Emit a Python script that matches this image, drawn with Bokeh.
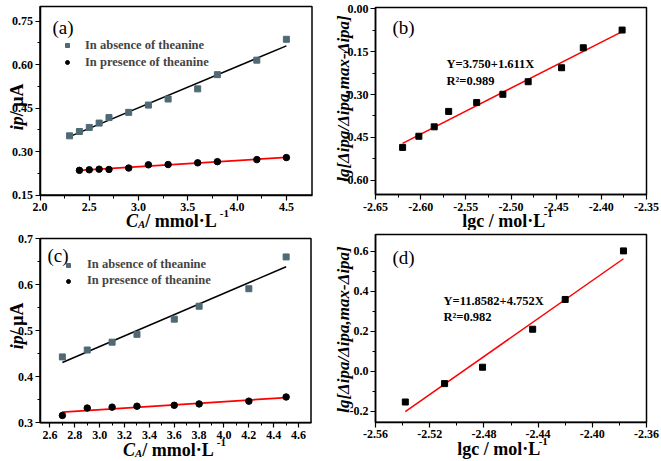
import math
import numpy as np
from bokeh.plotting import figure
from bokeh.layouts import column, row
from bokeh.models import (FixedTicker, Label, Range1d, Legend, LegendItem, BoxAnnotation,
                          CustomJSTickFormatter)
from bokeh.embed import file_html
from bokeh.resources import INLINE

# ---------------- data ----------------
# panel (a)
a_conc_absence = [2.3, 2.4, 2.5, 2.6, 2.7, 2.9, 3.1, 3.3, 3.6, 3.8, 4.2, 4.5]
a_ip_absence = [0.354, 0.369, 0.383, 0.398, 0.417, 0.435, 0.460, 0.481, 0.516, 0.565, 0.615, 0.687]
a_conc_presence = [2.4, 2.5, 2.6, 2.7, 2.9, 3.1, 3.3, 3.6, 3.8, 4.2, 4.5]
a_ip_presence = [0.235, 0.237, 0.239, 0.238, 0.243, 0.254, 0.255, 0.261, 0.265, 0.272, 0.279]

# panel (b)
b_lgc = [-2.620, -2.602, -2.585, -2.569, -2.538, -2.509, -2.481, -2.444, -2.420, -2.377]
b_lgratio = [-0.485, -0.446, -0.413, -0.359, -0.328, -0.299, -0.255, -0.206, -0.136, -0.074]
b_intercept, b_slope = 3.750, 1.611

# panel (c)
c_conc_absence = [2.7, 2.9, 3.1, 3.3, 3.6, 3.8, 4.2, 4.5]
c_ip_absence = [0.443, 0.458, 0.475, 0.492, 0.525, 0.553, 0.591, 0.660]
c_conc_presence = [2.7, 2.9, 3.1, 3.3, 3.6, 3.8, 4.2, 4.5]
c_ip_presence = [0.316, 0.332, 0.334, 0.336, 0.338, 0.341, 0.347, 0.356]

# panel (d)
d_lgc = [-2.538, -2.509, -2.481, -2.444, -2.420, -2.377]
d_lgratio = [-0.154, -0.062, 0.020, 0.210, 0.359, 0.602]
d_intercept, d_slope = 11.8582, 4.752

# axis limits (data units of the drawn box)
a_xlim, a_ylim = (2.0, 4.76), (0.15, 0.80)
b_xlim, b_ylim = (-2.65, -2.35), (-0.65, 0.005)
c_xlim, c_ylim = (2.52, 4.70), (0.3, 0.7)
d_xlim, d_ylim = (-2.56, -2.36), (-0.255, 0.684)

# ticks
a_xticks = [2.0, 2.5, 3.0, 3.5, 4.0, 4.5]
a_xlabels = ["2.0", "2.5", "3.0", "3.5", "4.0", "4.5"]
a_yticks = [0.15, 0.30, 0.45, 0.60, 0.75]
a_ylabels = ["0.15", "0.30", "0.45", "0.60", "0.75"]
b_xticks = [-2.65, -2.60, -2.55, -2.50, -2.45, -2.40, -2.35]
b_xlabels = ["-2.65", "-2.60", "-2.55", "-2.50", "-2.45", "-2.40", "-2.35"]
b_yticks = [-0.60, -0.45, -0.30, -0.15, 0.0]
b_ylabels = ["-0.60", "-0.45", "-0.30", "-0.15", "0.00"]
c_xticks = [2.6, 2.8, 3.0, 3.2, 3.4, 3.6, 3.8, 4.0, 4.2, 4.4, 4.6]
c_xlabels = ["2.6", "2.8", "3.0", "3.2", "3.4", "3.6", "3.8", "4.0", "4.2", "4.4", "4.6"]
c_yticks = [0.3, 0.4, 0.5, 0.6, 0.7]
c_ylabels = ["0.3", "0.4", "0.5", "0.6", "0.7"]
d_xticks = [-2.56, -2.52, -2.48, -2.44, -2.40, -2.36]
d_xlabels = ["-2.56", "-2.52", "-2.48", "-2.44", "-2.40", "-2.36"]
d_yticks = [-0.2, 0.0, 0.2, 0.4, 0.6]
d_ylabels = ["-0.2", "0.0", "0.2", "0.4", "0.6"]

legend_labels = ["In absence of theanine", "In presence of theanine"]

# ---------------- style ----------------
FONT = "Liberation Serif"
SQ_COLOR = "#4f6a74"

W_B = {' ': 250, '/': 278, 'm': 833, 'o': 500, 'l': 278, '·': 250, 'L': 667,
       '-': 333, '1': 500, 'μ': 576, 'A': 722, 'C': 722, 'g': 500, 'c': 444}
W_BI = {'C': 667, 'A': 667, 'i': 278, 'p': 500}

TICK_JS = """
for (let i = 0; i < tick_values.length; i++) {
    if (Math.abs(tick_values[i] - tick) < 1e-9) { return tick_labels[i]; }
}
return "";
"""


def tw(s, size, italic=False):
    t = W_BI if italic else W_B
    return sum(t.get(ch, 500) for ch in s) * size / 1000.0


class Panel:
    """A figure whose frame covers the whole canvas; the plot box sits at
    canvas pixels (L, R, T, B) and the axes are fixed onto the box edges."""

    def __init__(self, w, h, box, xlim, ylim, xt, xl, yt, yl):
        L, R, T, B = box
        self.h = h
        sx = (xlim[1] - xlim[0]) / (R - L)
        sy = (ylim[1] - ylim[0]) / (B - T)
        xr = Range1d(xlim[0] - L * sx, xlim[1] + (w - R) * sx)
        yr = Range1d(ylim[0] - (h - B) * sy, ylim[1] + T * sy)
        p = figure(width=w, height=h, x_range=xr, y_range=yr,
                   output_backend="svg", toolbar_location=None, title=None,
                   min_border=0, min_border_left=0, min_border_right=0,
                   min_border_top=0, min_border_bottom=0)
        p.grid.visible = False
        p.outline_line_color = None
        p.add_layout(BoxAnnotation(left=xlim[0], right=xlim[1], bottom=ylim[0], top=ylim[1],
                                   fill_color=None, fill_alpha=0, line_color="black",
                                   line_width=1.5, line_alpha=1.0))
        xa, ya = p.xaxis[0], p.yaxis[0]
        xa.fixed_location = ylim[0]
        xa.bounds = xlim
        ya.fixed_location = xlim[0]
        ya.bounds = ylim
        for ax, ticks, labels in ((xa, xt, xl), (ya, yt, yl)):
            minor = [(ticks[i] + ticks[i + 1]) / 2 for i in range(len(ticks) - 1)]
            ax.ticker = FixedTicker(ticks=ticks, minor_ticks=minor)
            ax.formatter = CustomJSTickFormatter(
                args=dict(tick_values=list(ticks), tick_labels=list(labels)), code=TICK_JS)
            ax.axis_line_color = "black"
            ax.axis_line_width = 1.5
            ax.major_tick_line_color = "black"
            ax.major_tick_line_width = 1.2
            ax.minor_tick_line_color = "black"
            ax.minor_tick_line_width = 1.0
            ax.major_tick_in = 0
            ax.major_tick_out = 5
            ax.minor_tick_in = 0
            ax.minor_tick_out = 3
            ax.major_label_text_font = FONT
            ax.major_label_text_font_style = "bold"
            ax.major_label_text_font_size = "12px"
            ax.major_label_text_color = "black"
        xa.major_label_standoff = 3
        ya.major_label_standoff = 2
        self.p = p

    def lab(self, text, x, y_top, size, style="bold", align="left", baseline="alphabetic", angle=0.0):
        """x, y_top in canvas pixels measured from the top-left corner."""
        self.p.add_layout(Label(x=x, y=self.h - y_top, x_units="screen", y_units="screen",
                                text=text, text_font=FONT, text_font_size=f"{size}px",
                                text_font_style=style, text_align=align,
                                text_baseline=baseline, angle=angle, text_color="black"))

    def xlabel(self, pieces, cx, base):
        total = sum(tw(s, sz, it) for s, sz, st, dy, it in pieces)
        x = cx - total / 2
        for s, sz, st, dy, it in pieces:
            self.lab(s, x, base - dy, sz, st)
            x += tw(s, sz, it)

    def ylabel(self, pieces, cx, cy):
        total = sum(tw(s, sz, it) for s, sz, st, it in pieces)
        y = cy + total / 2
        for s, sz, st, it in pieces:
            self.lab(s, cx, y, sz, st, baseline="middle", angle=math.pi / 2)
            y -= tw(s, sz, it)

    def legend(self, r1, r2, left, top, standoff, lh):
        leg = Legend(items=[LegendItem(label=legend_labels[0], renderers=[r1]),
                            LegendItem(label=legend_labels[1], renderers=[r2])],
                     location=(left, self.h - top - 2 * lh))
        leg.border_line_color = None
        leg.background_fill_alpha = 0
        leg.margin = 0
        leg.padding = 0
        leg.spacing = 0
        leg.glyph_width = 10
        leg.glyph_height = 10
        leg.label_height = lh
        leg.label_standoff = standoff
        leg.label_text_font = FONT
        leg.label_text_font_style = "bold"
        leg.label_text_font_size = "12.5px"
        self.p.add_layout(leg)


def fit_line(x, y):
    k, c = np.polyfit(x, y, 1)
    xs = np.array([min(x), max(x)])
    return xs, c + k * xs


XLAB_CA = [("C", 18, "bold italic", 0, True), ("A", 11, "bold italic", -3, True),
           (" / mmol·L", 18, "bold", 0, False), ("-1", 11, "bold", 7, False)]
XLAB_LGC = [("lgc / mol·L", 18, "bold", 0, False), ("-1", 11, "bold", 7, False)]
YLAB_IP = [("ip", 18, "bold italic", True), (" / μA", 18, "bold", False)]
YLAB_LG = "lg[Δipa/Δipa,max-Δipa]"

W, H = 330, 230

# ---------------- panel (a) ----------------
A = Panel(W, H, (39.5, 311.5, 6, 194.5), a_xlim, a_ylim, a_xticks, a_xlabels, a_yticks, a_ylabels)
xs, ys = fit_line(a_conc_absence, a_ip_absence)
A.p.line(xs, ys, line_color="black", line_width=1.5)
xs, ys = fit_line(a_conc_presence, a_ip_presence)
A.p.line(xs, ys, line_color="red", line_width=1.8)
ra1 = A.p.scatter(a_conc_absence, a_ip_absence, marker="square", size=6, color=SQ_COLOR)
ra2 = A.p.scatter(a_conc_presence, a_ip_presence, marker="circle", size=6.5, color="black")
A.legend(ra1, ra2, 62, 36.5, 13, 17)
A.lab("(a)", 52, 16, 19, style="normal", baseline="top")
A.xlabel(XLAB_CA, 177, 220)
A.ylabel(YLAB_IP, 16, 104)

# ---------------- panel (b) ----------------
Bp = Panel(W, H, (45, 316, 7, 194), b_xlim, b_ylim, b_xticks, b_xlabels, b_yticks, b_ylabels)
xs = np.array([min(b_lgc), max(b_lgc)])
Bp.p.line(xs, b_intercept + b_slope * xs, line_color="red", line_width=1.5)
Bp.p.scatter(b_lgc, b_lgratio, marker="square", size=6, color="black")
Bp.lab("(b)", 62, 16, 19, style="normal", baseline="top")
Bp.lab("Y=3.750+1.611X", 116, 63, 12.5, baseline="middle")
Bp.lab("R²=0.989", 116, 80, 12.5, baseline="middle")
Bp.xlabel(XLAB_LGC, 177, 220)
Bp.lab(YLAB_LG, 13, 98, 17, style="bold italic", align="center", baseline="middle", angle=math.pi / 2)

# ---------------- panel (c) ----------------
Cp = Panel(W, H, (39.5, 310.5, 8, 192.3), c_xlim, c_ylim, c_xticks, c_xlabels, c_yticks, c_ylabels)
xs, ys = fit_line(c_conc_absence, c_ip_absence)
Cp.p.line(xs, ys, line_color="black", line_width=1.5)
xs, ys = fit_line(c_conc_presence, c_ip_presence)
Cp.p.line(xs, ys, line_color="red", line_width=1.8)
rc1 = Cp.p.scatter(c_conc_absence, c_ip_absence, marker="square", size=6, color=SQ_COLOR)
rc2 = Cp.p.scatter(c_conc_presence, c_ip_presence, marker="circle", size=6.5, color="black")
Cp.legend(rc1, rc2, 63, 26.5, 14, 16)
Cp.lab("(c)", 47, 14, 19, style="normal", baseline="top")
Cp.xlabel(XLAB_CA, 174, 219)
Cp.ylabel(YLAB_IP, 16, 93)

# ---------------- panel (d) ----------------
Dp = Panel(W, H, (45, 316, 4, 191.7), d_xlim, d_ylim, d_xticks, d_xlabels, d_yticks, d_ylabels)
xs = np.array([min(d_lgc), max(d_lgc)])
Dp.p.line(xs, d_intercept + d_slope * xs, line_color="red", line_width=1.5)
Dp.p.scatter(d_lgc, d_lgratio, marker="square", size=6, color="black")
Dp.lab("(d)", 62, 16, 19, style="normal", baseline="top")
Dp.lab("Y=11.8582+4.752X", 113, 70, 12.5, baseline="middle")
Dp.lab("R²=0.982", 113, 86, 12.5, baseline="middle")
Dp.xlabel(XLAB_LGC, 172, 218)
Dp.lab(YLAB_LG, 13, 99, 17, style="bold italic", align="center", baseline="middle", angle=math.pi / 2)

layout = column(row(A.p, Bp.p), row(Cp.p, Dp.p))
open("out.html", "w").write(file_html(layout, INLINE))
